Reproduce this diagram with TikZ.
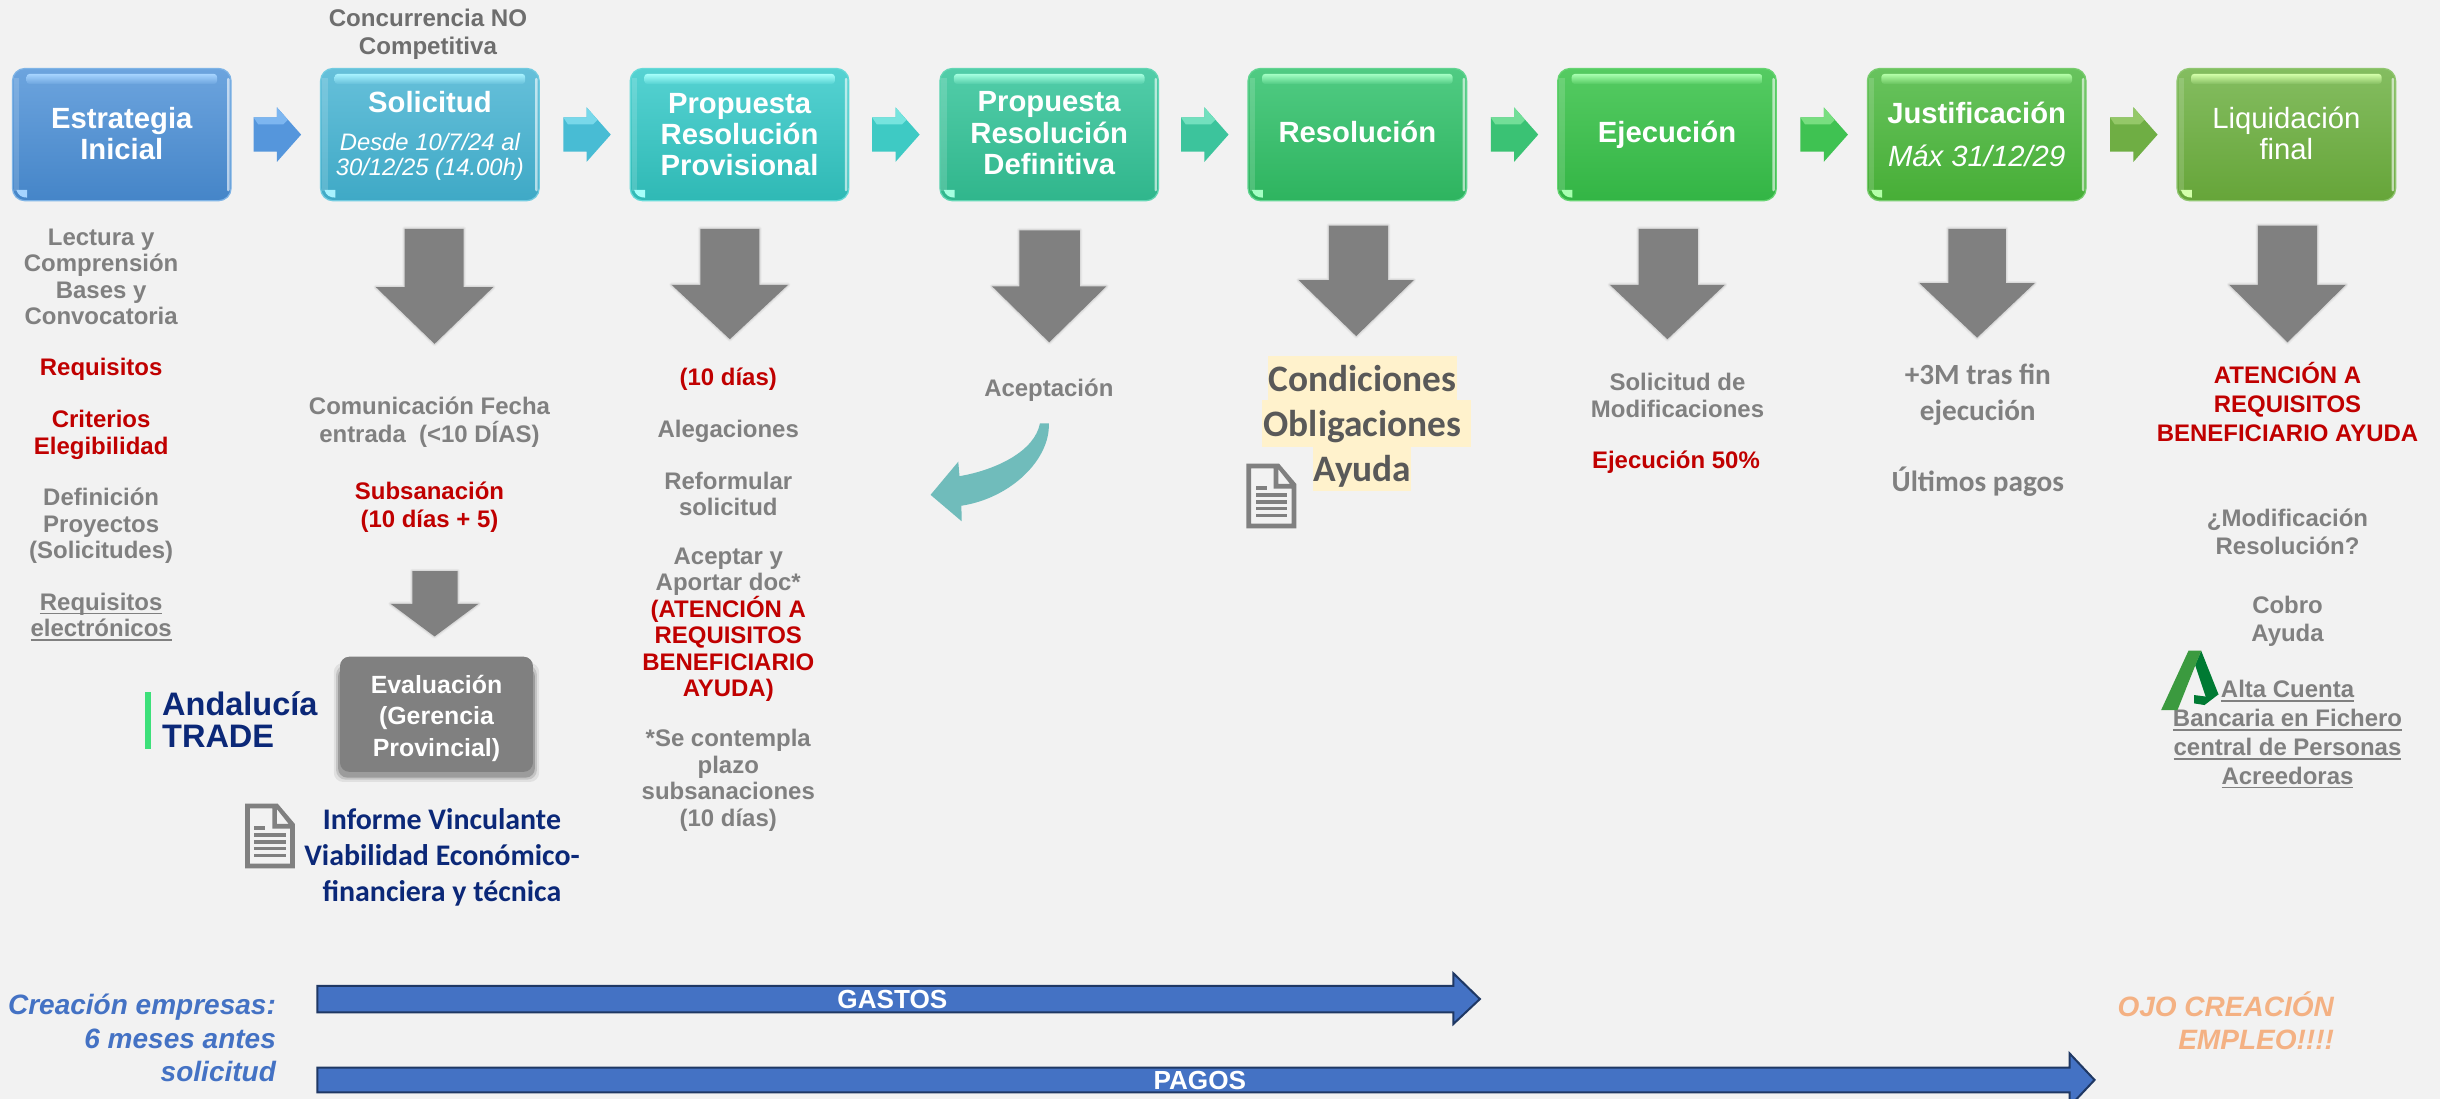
\documentclass[tikz,border=0pt]{standalone}
\usepackage{fontspec}
\setmainfont{Liberation Sans}
\newfontfamily\calib{Carlito}
\usetikzlibrary{calc}
\definecolor{bgc}{HTML}{F2F2F2}
\definecolor{gtx}{HTML}{808080}
\definecolor{gtxd}{HTML}{6E6E6E}
\definecolor{rtx}{HTML}{C00000}
\definecolor{navy}{HTML}{0B2878}
\definecolor{garrow}{HTML}{808080}
\definecolor{hili}{HTML}{FFF2CC}
\definecolor{condc}{HTML}{595959}
\definecolor{tealc}{HTML}{70BCBB}
\definecolor{barblue}{HTML}{4472C4}
\definecolor{bardark}{HTML}{1F3864}
\definecolor{orangec}{HTML}{F4B183}
\definecolor{atgreen}{HTML}{3DE07A}
\definecolor{jaL}{HTML}{3B9A3F}\definecolor{jaD}{HTML}{007A33}
\definecolor{aTop}{HTML}{6CA4DE}\definecolor{aBot}{HTML}{4585C8}\definecolor{aHi}{HTML}{A6D4FF}\definecolor{aLn}{HTML}{7FB4E6}\definecolor{aCh}{HTML}{5596DC}\definecolor{aChL}{HTML}{7DB6F0}
\definecolor{bTop}{HTML}{66C0DA}\definecolor{bBot}{HTML}{3FA9C6}\definecolor{bHi}{HTML}{A8F2FF}\definecolor{bLn}{HTML}{72CBE0}\definecolor{bCh}{HTML}{48BCD4}\definecolor{bChL}{HTML}{78D8EA}
\definecolor{cTop}{HTML}{55D2D2}\definecolor{cBot}{HTML}{2FB9B5}\definecolor{cHi}{HTML}{A5FFFA}\definecolor{cLn}{HTML}{66DAD8}\definecolor{cCh}{HTML}{3ECAC4}\definecolor{cChL}{HTML}{76E4DE}
\definecolor{dTop}{HTML}{52CDA9}\definecolor{dBot}{HTML}{30B68C}\definecolor{dHi}{HTML}{A6FFE0}\definecolor{dLn}{HTML}{63D6B4}\definecolor{dCh}{HTML}{3CC49C}\definecolor{dChL}{HTML}{72E0BE}
\definecolor{eTop}{HTML}{50CB83}\definecolor{eBot}{HTML}{2EB45F}\definecolor{eHi}{HTML}{A4FFC4}\definecolor{eLn}{HTML}{62D492}\definecolor{eCh}{HTML}{3AC274}\definecolor{eChL}{HTML}{72DE98}
\definecolor{fTop}{HTML}{55CB62}\definecolor{fBot}{HTML}{33B545}\definecolor{fHi}{HTML}{A8FFB0}\definecolor{fLn}{HTML}{66D472}\definecolor{fCh}{HTML}{3FC252}\definecolor{fChL}{HTML}{78DE80}
\definecolor{gTop}{HTML}{68C35E}\definecolor{gBot}{HTML}{47AE36}\definecolor{gHi}{HTML}{B4FFA8}\definecolor{gLn}{HTML}{78CC6E}\definecolor{gCh}{HTML}{52B948}\definecolor{gChL}{HTML}{82D676}
\definecolor{hTop}{HTML}{84BD60}\definecolor{hBot}{HTML}{66A539}\definecolor{hHi}{HTML}{D4FFAA}\definecolor{hLn}{HTML}{90C670}\definecolor{hCh}{HTML}{6FAE44}\definecolor{hChL}{HTML}{94C868}
\newcommand{\fsz}[2]{\fontsize{#1}{#2}\selectfont}
\newcommand{\dfnt}{\fsz{15.3}{16}\mdseries\itshape}
\newlength\ulw
\newcommand{\ulx}[1]{\settowidth{\ulw}{#1}\rlap{\rule[-2.6pt]{\ulw}{1.2pt}}#1}
\tikzset{
  x=1pt,y=-1pt,
  gl/.style={inner sep=0pt,align=center,text=gtx,font=\fsz{15.4}{17}\bfseries},
  rd/.style={gl,text=rtx},
  cal/.style={inner sep=0pt,align=center,text=gtx,font=\fsz{18.8}{23}\calib\bfseries},
  fbox/.style={rounded corners=8pt,minimum width=140.5pt,minimum height=85pt,inner sep=0pt,align=center,text=white,font=\fsz{18.8}{20}\bfseries},
  barlbl/.style={inner sep=0pt,text=white,font=\fsz{16.8}{18}\bfseries},
  blueit/.style={inner sep=0pt,align=right,anchor=east,text=barblue,font=\fsz{18}{21.5}\bfseries\itshape},
}
% name, left x, letter, text
\newcommand{\flowbox}[4]{%
  \node[fbox,top color=#3Top,bottom color=#3Bot,draw=#3Ln,line width=.8pt] (#1) at ({#2+70.25},86.5) {#4};
  \shade[top color=#3Hi,bottom color=#3Top,rounded corners=2pt] ({#2+9},47.5) rectangle ({#2+131.5},54);
  \fill[white,opacity=.6,rounded corners=.8pt] ({#2+137.9},50) rectangle ({#2+139.5},123);
  \fill[white,opacity=.15] ({#2+1},50) rectangle ({#2+4.5},123);
  \fill[#3Hi] ({#2+2.5},122) -- ({#2+9.5},122) -- ({#2+9.5},127) .. controls ({#2+6},127) and ({#2+3.5},125.5) .. cycle;
}
% x0, letter
\newcommand{\chev}[2]{%
  \fill[#2Ch] ({#1},75.5) -- ({#1+15},75.5) -- ({#1+15},69) -- ({#1+30.5},86.5) -- ({#1+15},104) -- ({#1+15},97.5) -- ({#1},97.5) -- cycle;
  \fill[#2ChL] ({#1},75.5) -- ({#1+15},75.5) -- ({#1+15},69) -- ({#1+22},77) -- ({#1+19},80) -- ({#1+3},80) -- cycle;
}
% shaft l, shaft r, head l, head r, top, headtop, tip
\newcommand{\bigarrow}[7]{%
  \foreach \w/\o in {3/.07,1.6/.14}{
  \draw[garrow,opacity=\o,line width=\w pt,line join=round] (#1,#5) -- (#2,#5) -- (#2,#6) -- (#4,#6) -- ({(#3+#4)/2},#7) -- (#3,#6) -- (#1,#6) -- cycle;}
  \fill[garrow] (#1,#5) -- (#2,#5) -- (#2,#6) -- (#4,#6) -- ({(#3+#4)/2},#7) -- (#3,#6) -- (#1,#6) -- cycle;
}
% doc icon: x y
\newcommand{\docicon}[2]{%
  \begin{scope}[shift={(#1,#2)}]
  \fill[gtx,even odd rule] (0,0) -- (21,0) -- (32,13) -- (32,41.5) -- (0,41.5) -- cycle
     (3,3) -- (3,38.5) -- (29,38.5) -- (29,16) -- (17.5,16) -- (17.5,3) -- cycle
     (20.5,3.5) -- (20.5,13) -- (28,13) -- cycle;
  \fill[gtx] (6,14.5) rectangle (13,17);
  \foreach \yy in {19,23.5,27.5,32}{\fill[gtx] (6,\yy) rectangle (26,{\yy+2.4});}
  \end{scope}
}
\begin{document}
\begin{tikzpicture}
\useasboundingbox (0,0) rectangle (1568,706.2);
\fill[bgc] (0,0) rectangle (1568,706.2);

% top flow boxes
\flowbox{b1}{8}{a}{Estrategia\\Inicial\rule[-2pt]{0pt}{0pt}}
\flowbox{b2}{206}{b}{Solicitud\rule{0pt}{15pt}\\[4.5pt]{\dfnt Desde 10/7/24 al}\\[-4pt]{\dfnt 30/12/25 (14.00h)}}
\flowbox{b3}{405}{c}{Propuesta\\Resolución\\Provisional}
\flowbox{b4}{604}{d}{Propuesta\\Resolución\\Definitiva\rule[-2pt]{0pt}{0pt}}
\flowbox{b5}{802}{e}{Resolución\rule[-3pt]{0pt}{0pt}}
\flowbox{b6}{1001}{f}{Ejecución}
\flowbox{b7}{1200}{g}{Justificación\\[8pt]{\mdseries\itshape Máx 31/12/29}}
\flowbox{b8}{1399}{h}{{\mdseries Liquidación}\\{\mdseries final}\rule[-2pt]{0pt}{0pt}}

\chev{163}{a}\chev{362}{b}\chev{560.5}{c}\chev{759}{d}\chev{958}{e}\chev{1157}{f}\chev{1356}{h}

% grey arrows
\bigarrow{260}{298}{241.5}{317}{147}{184.5}{221}
\bigarrow{450}{488}{431.5}{506.5}{147}{183}{218}
\bigarrow{655}{694}{637.5}{711}{148}{184}{220}
\bigarrow{854}{892}{834.5}{908.5}{145}{180}{216}
\bigarrow{1053}{1091}{1034.5}{1108.5}{147}{183}{218}
\bigarrow{1252}{1289}{1233.5}{1307.5}{147}{182}{217}
\bigarrow{1451}{1489}{1432.5}{1507.5}{145}{183}{220}
\bigarrow{265}{294}{251}{307.5}{367}{388}{409}

% top caption
\node[gl,text=gtxd,font=\fsz{15.5}{18}\bfseries] (cap) at (275,22) {Concurrencia NO\\Competitiva};

% column 1
\node[gl] (c1a) at (65,178) {Lectura y\\Comprensión\\Bases y\\Convocatoria};
\node[rd] (c1b) at (65,237.5) {Requisitos};
\node[rd] (c1c) at (65,279.5) {Criterios\\Elegibilidad};
\node[gl] (c1d) at (65,338) {Definición\\Proyectos\\(Solicitudes)};
\node[gl] (c1e) at (65,396.5) {\ulx{Requisitos}\\\ulx{electrónicos}};

% column 2
\node[gl,font=\fsz{15.4}{18}\bfseries] (c2a) at (276,271) {Comunicación Fecha\\entrada\ \ (<10 DÍAS)};
\node[rd,font=\fsz{15.4}{18}\bfseries] (c2b) at (276,326) {Subsanación\\(10 días + 5)};

% evaluation
\foreach \w/\o in {8/.07,5/.12,2.5/.2}{\fill[black,opacity=\o,rounded corners=6pt] ({218.5-\w/2},{430-\w/2}) rectangle ({342.5+\w/2},{498.5+\w/2});}
\node[inner sep=0pt,fill=gtx,rounded corners=6pt,minimum width=124pt,minimum height=74pt,align=center,text=white,font=\fsz{16}{20}\bfseries] (ev) at (280.5,459) {Evaluación\rule{0pt}{17pt}\\(Gerencia\\Provincial)};

% Andalucia TRADE
\fill[atgreen] (93,444.5) rectangle (97,481);
\node[inner sep=0pt,anchor=base west,text=navy,font=\fsz{20.9}{22}\bfseries] (at1) at (104,459.5) {Andalucía};
\node[inner sep=0pt,anchor=base west,text=navy,font=\fsz{20.9}{22}\bfseries] (at2) at (104,480.5) {TRADE};

% informe
\docicon{157.5}{516.5}
\node[inner sep=0pt,align=center,text=navy,font=\fsz{19.2}{23}\calib\bfseries] (inf) at (284,551) {Informe Vinculante\\Viabilidad Económico-\\financiera y técnica};

% column 3
\node[rd] (c3a) at (468,244) {(10 días)};
\node[gl] (c3b) at (468,277) {Alegaciones};
\node[gl] (c3c) at (468,317.5) {Reformular\\solicitud};
\node[gl] (c3d) at (468,401.5) {Aceptar y\\Aportar doc*\\\textcolor{rtx}{(ATENCIÓN A}\\\textcolor{rtx}{REQUISITOS}\\\textcolor{rtx}{BENEFICIARIO}\\\textcolor{rtx}{AYUDA)}};
\node[gl] (c3e) at (468,501.5) {*Se contempla\\plazo\\subsanaciones\\(10 días)};

% column 4
\node[gl] (c4a) at (674,251) {Aceptación};
\fill[tealc] (668.3,272) -- (674,272) .. controls (675,295) and (650,320) .. (617.8,325) -- (618,335) -- (598,318) -- (615.8,296.7) -- (616.6,306) .. controls (640,302) and (665,290) .. (668.3,272) -- cycle;

% column 5
\fill[hili] (815,229) rectangle (936,257.5);
\fill[hili] (811,257) rectangle (945,287);
\fill[hili] (844,286.5) rectangle (907,315.5);
\node[inner sep=0pt,align=center,text=condc,font=\fsz{24}{29}\calib\bfseries] (cond) at (875.5,274) {Condiciones\\Obligaciones\\Ayuda};
\docicon{801}{298}

% column 6
\node[gl] (c6a) at (1078,254) {Solicitud de\\Modificaciones};
\node[rd] (c6b) at (1077,297) {Ejecución 50\%};

% column 7
\node[cal] (c7a) at (1271,253.5) {+3M tras fin\\ejecución};
\node[cal] (c7b) at (1271,309.5) {Últimos pagos};

% column 8
\node[rd,font=\fsz{15.4}{18.5}\bfseries] (c8a) at (1470,258.5) {ATENCIÓN A\\REQUISITOS\\BENEFICIARIO AYUDA};
\node[gl,font=\fsz{15.4}{18}\bfseries] (c8b) at (1470,342) {¿Modificación\\Resolución?};
\node[gl,font=\fsz{15.4}{18}\bfseries] (c8c) at (1470,399) {Cobro\\Ayuda};
\node[gl,font=\fsz{15.4}{18.5}\bfseries] (c8d) at (1470,472) {\ulx{Alta Cuenta}\\\ulx{Bancaria en Fichero}\\\ulx{central de Personas}\\\ulx{Acreedoras}};
\begin{scope}[shift={(1349.6,385.6)},x=.2142pt,y=-.2142pt]
\fill[jaD] (303,152) -- (355,283) -- (320,300) -- (285,195) -- cycle;
\fill[jaD] (282,285) -- (320,290) -- (355,283) -- (313,315) -- (282,310) -- cycle;
\fill[jaL] (183,330) -- (265,152) -- (303,152) -- (232,330) -- cycle;
\end{scope}

% bottom bars
\draw[fill=barblue,draw=bardark,line width=1.3pt] (204,633.5) -- (934,633.5) -- (934,625.5) -- (951,642) -- (934,658) -- (934,650.5) -- (204,650.5) -- cycle;
\node[barlbl] (gastos) at (573.5,642) {GASTOS};
\draw[fill=barblue,draw=bardark,line width=1.3pt] (204,686) -- (1330,686) -- (1330,677) -- (1346,694) -- (1330,711) -- (1330,702) -- (204,702) -- cycle;
\node[barlbl] (pagos) at (771,694.5) {PAGOS};

\node[blueit] (cre) at (177.5,667) {Creación empresas:\\6 meses antes\\solicitud};
\node[blueit,text=orangec] (ojo) at (1500,656) {OJO CREACIÓN\\EMPLEO!!!!};
\end{tikzpicture}
\end{document}
